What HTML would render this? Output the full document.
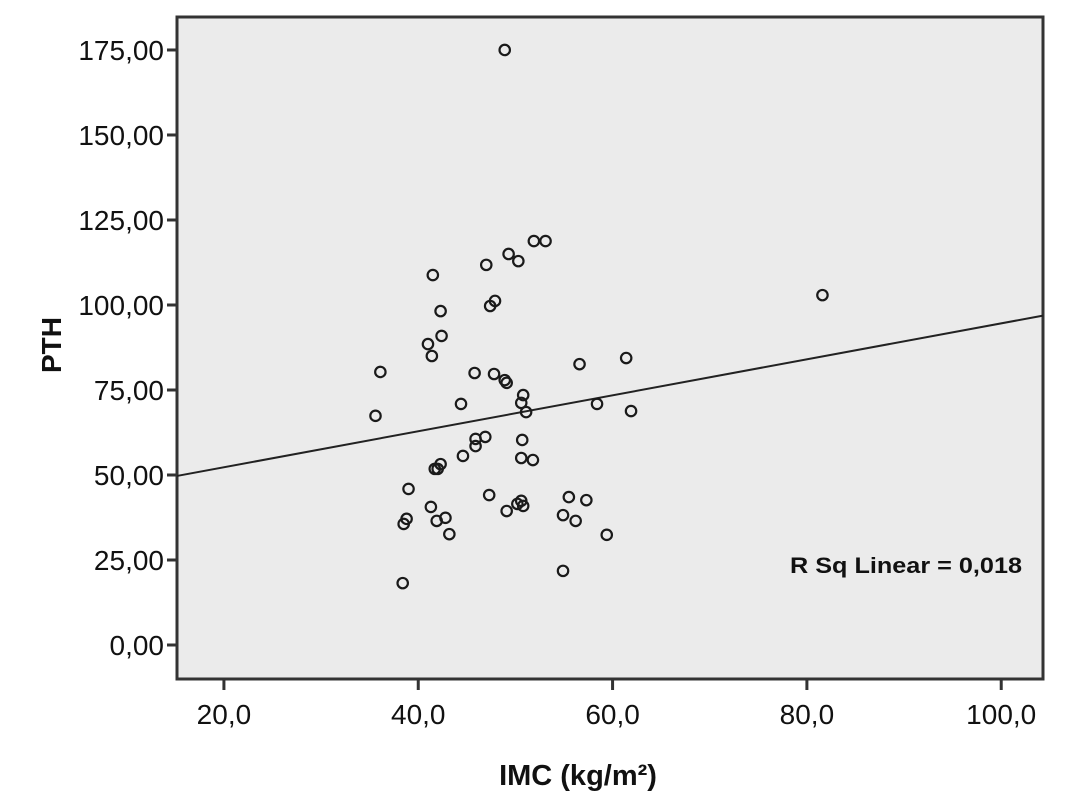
<!DOCTYPE html>
<html><head><meta charset="utf-8"><style>
body{margin:0;background:#fff;}
svg{display:block;font-family:"Liberation Sans",Arial,sans-serif;}
</style></head><body>
<svg id="chart" width="1066" height="812" xmlns="http://www.w3.org/2000/svg">
<rect x="177" y="17" width="866" height="662" fill="#ebebeb" stroke="#333" stroke-width="3"/>
<g id="axes"></g>
<g id="marks"></g>
<text transform="translate(61,345) rotate(-90)" text-anchor="middle" font-size="28" font-weight="bold" fill="#111">PTH</text>
<text x="578" y="785" text-anchor="middle" font-size="29" font-weight="bold" fill="#111">IMC (kg/m²)</text>
<text x="790" y="573" font-size="22" font-weight="bold" fill="#111" textLength="232" lengthAdjust="spacingAndGlyphs">R Sq Linear = 0,018</text>
</svg>
<script>
const imc = [48.9,51.9,53.1,49.3,50.3,47.0,41.5,47.9,47.4,81.6,42.3,42.4,41.0,41.4,36.1,45.8,47.8,48.9,49.1,56.6,61.4,50.8,50.6,44.4,58.4,51.1,61.9,35.6,46.9,45.9,50.7,45.9,44.6,50.6,51.8,42.3,42.0,41.7,39.0,47.3,55.5,57.3,50.6,50.2,50.8,41.3,49.1,54.9,42.8,38.8,56.2,41.9,38.5,43.2,59.4,54.9,38.4];
const pth = [175,118.8,118.8,115,112.9,111.8,108.8,101.2,99.7,102.9,98.2,90.9,88.5,85,80.3,80,79.7,77.9,77.1,82.6,84.4,73.5,71.2,70.9,70.9,68.5,68.8,67.4,61.2,60.6,60.3,58.5,55.6,55,54.4,53.2,51.8,51.8,45.9,44.1,43.5,42.6,42.4,41.5,40.9,40.6,39.4,38.2,37.4,37.1,36.5,36.5,35.6,32.6,32.4,21.8,18.2];
const xTicks = [20,40,60,80,100];
const xTickLabels = ["20,0","40,0","60,0","80,0","100,0"];
const yTicks = [0,25,50,75,100,125,150,175];
const yTickLabels = ["0,00","25,00","50,00","75,00","100,00","125,00","150,00","175,00"];
const fitLine = [41.7, 0.529]; // intercept, slope
const X0=15.17,X1=104.3,PX0=177,PX1=1043;
const Y0=-10,Y1=184.7,PY0=679,PY1=17;
const sx=v=>PX0+(v-X0)/(X1-X0)*(PX1-PX0);
const sy=v=>PY0+(v-Y0)/(Y1-Y0)*(PY1-PY0);
const NS="http://www.w3.org/2000/svg";
const axes=document.getElementById('axes'), marks=document.getElementById('marks');
function mk(tag,attrs,parent){const e=document.createElementNS(NS,tag);for(const k in attrs)e.setAttribute(k,attrs[k]);parent.appendChild(e);return e;}
xTicks.forEach((t,i)=>{
  const l=mk('line',{x1:sx(t),x2:sx(t),y1:679,y2:690,stroke:'#333','stroke-width':3},axes);
  
  
  const tx=mk('text',{x:sx(t),y:724,'text-anchor':'middle','font-size':28,fill:'#111'},axes);
  tx.textContent=xTickLabels[i];
  
  
});
yTicks.forEach((t,i)=>{
  const l=mk('line',{x1:167,x2:177,y1:sy(t),y2:sy(t),stroke:'#333','stroke-width':3},axes);
  
  
  const tx=mk('text',{x:164,y:sy(t)+10,'text-anchor':'end','font-size':28,fill:'#111'},axes);
  tx.textContent=yTickLabels[i];
  
  
});
const fl=mk('line',{x1:sx(X0),y1:sy(fitLine[0]+fitLine[1]*X0),x2:sx(X1),y2:sy(fitLine[0]+fitLine[1]*X1),stroke:'#222','stroke-width':2},marks);


imc.forEach((v,i)=>{
  const c=mk('circle',{cx:sx(v),cy:sy(pth[i]),r:5.2,fill:'none',stroke:'#1a1a1a','stroke-width':2.2},marks);
  
  
});
</script>
</body></html>
